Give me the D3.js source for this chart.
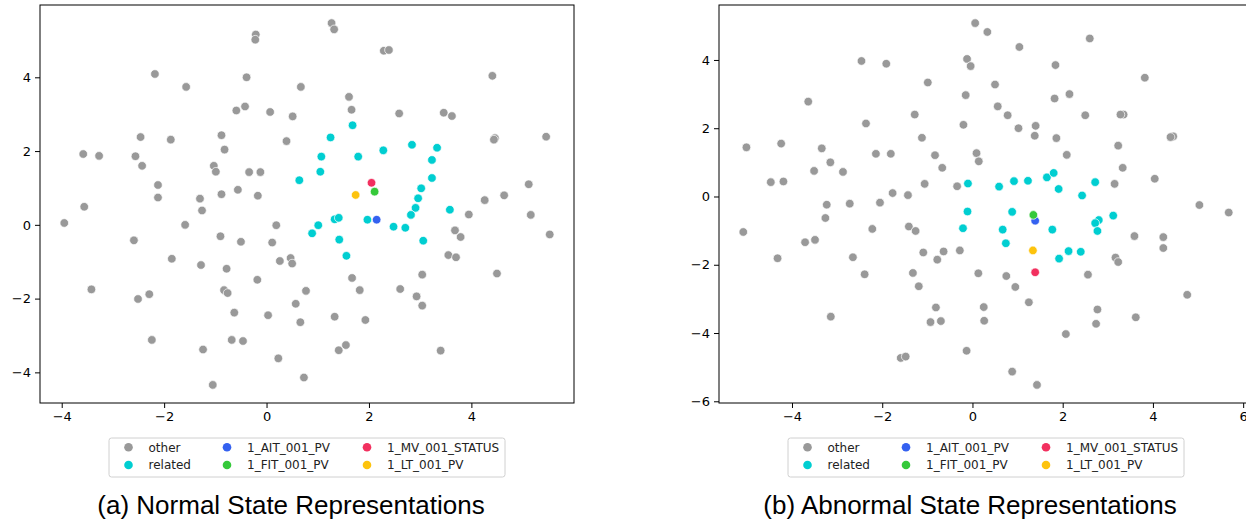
<!DOCTYPE html>
<html>
<head>
<meta charset="utf-8">
<script src="https://cdn.jsdelivr.net/npm/d3@7"></script>
<style>
  body { margin: 0; background: #fff; }
  svg { display: block; }
  .tick text { font-family: "DejaVu Sans", sans-serif; font-size: 13px; fill: #000; }
  .tick line { stroke: #000; }
  .legend text { font-family: "DejaVu Sans", sans-serif; font-size: 12px; fill: #222; }
  .caption { font-family: "Liberation Sans", Arial, sans-serif; font-size: 26px; fill: #000; }
</style>
</head>
<body>
<svg id="chart"></svg>
<script>
// categories / legend
const groups = ['other', 'related'];
const sensors = ['1_AIT_001_PV', '1_FIT_001_PV', '1_MV_001_STATUS', '1_LT_001_PV'];
const captions = ['(a) Normal State Representations', '(b) Abnormal State Representations'];

// tick labels
const xTicksNormal = [-4, -2, 0, 2, 4];
const yTicksNormal = [-4, -2, 0, 2, 4];
const xTicksAbnormal = [-4, -2, 0, 2, 4, 6];
const yTicksAbnormal = [-6, -4, -2, 0, 2, 4];

// (a) normal state
const normalOther = [
  [-0.21, 5.16], [-0.22, 5.02], [-2.18, 4.09], [-0.39, 4.0], [-1.57, 3.74], [0.67, 3.74],
  [-0.42, 3.21], [-0.59, 3.10], [0.07, 3.06], [0.51, 2.94], [-2.46, 2.38], [-1.87, 2.31],
  [-0.88, 2.43], [-0.82, 2.04], [0.39, 2.27], [-3.58, 1.92], [-3.27, 1.87], [-2.56, 1.86],
  [-2.43, 1.60], [-1.03, 1.60], [-0.99, 1.44], [-0.34, 1.43], [-0.12, 1.43], [-2.12, 1.08],
  [-2.12, 0.74], [-1.30, 0.71], [-0.88, 0.83], [-0.56, 0.95], [-0.17, 0.79], [-3.56, 0.49],
  [-1.26, 0.39],
  [-3.95, 0.05], [-1.59, 0.0], [-2.59, -0.42], [-0.90, -0.31], [-0.50, -0.46], [0.19, -0.01],
  [0.11, -0.48], [-1.85, -0.92], [-1.28, -1.09], [-0.78, -1.19], [0.26, -0.98], [0.47, -0.90],
  [0.50, -1.05], [-0.18, -1.49], [-3.42, -1.75], [-2.29, -1.88], [-2.51, -2.01], [-0.83, -1.77],
  [-0.76, -1.85], [0.77, -1.79], [-0.63, -2.38], [0.03, -2.45], [0.57, -2.14], [0.66, -2.64],
  [-2.24, -3.12], [-1.24, -3.38], [-0.68, -3.12], [-0.46, -3.15], [0.23, -3.62], [-1.05, -4.34],
  [0.73, -4.14],
  [1.27, 5.47], [1.32, 5.30], [2.29, 4.72], [2.39, 4.74], [4.41, 4.04], [1.61, 3.47],
  [1.66, 3.12], [2.59, 3.02], [3.46, 3.04], [3.62, 2.95], [4.46, 2.35], [4.44, 2.31],
  [5.46, 2.39], [4.26, 0.67], [4.64, 0.80], [5.12, 1.10],
  [3.95, 0.28], [5.16, 0.27], [5.53, -0.26], [3.68, -0.15], [3.79, -0.33], [3.55, -0.82],
  [3.70, -0.88], [4.50, -1.32], [3.04, -1.35], [2.61, -1.74], [2.93, -1.94], [3.04, -2.19],
  [1.67, -1.44], [1.82, -1.77], [1.33, -2.49], [1.93, -2.58], [1.41, -3.40], [1.55, -3.26],
  [3.40, -3.41]
];
const normalRelated = [
  [0.64, 1.21], [1.68, 2.70], [1.25, 2.37], [2.84, 2.17], [3.33, 2.09], [1.07, 1.85],
  [1.79, 1.85], [2.28, 2.02], [3.23, 1.76], [1.05, 1.44], [3.23, 1.27], [3.02, 0.99],
  [2.96, 0.72], [2.91, 0.46], [3.58, 0.41], [2.82, 0.27], [0.89, -0.23], [1.01, -0.01],
  [1.33, 0.15], [1.41, 0.19], [1.42, -0.40], [1.56, -0.84], [1.97, 0.14], [2.48, -0.05],
  [2.71, -0.08], [3.06, -0.43]
];
const normalSensors = [[2.15, 0.14], [2.11, 0.90], [2.05, 1.14], [1.74, 0.81]];

// (b) abnormal state
const abnormalOther = [
  [0.06, 5.08], [-2.46, 3.97], [-1.91, 3.89], [-0.12, 4.03], [-0.04, 3.82], [-0.99, 3.34],
  [-3.64, 2.78], [-0.15, 2.97], [-1.28, 2.40], [-2.36, 2.14], [-0.20, 2.10], [-1.12, 1.72],
  [-5.01, 1.44], [-4.24, 1.55], [-3.34, 1.41], [-2.14, 1.25], [-1.81, 1.25], [-0.83, 1.21],
  [0.09, 1.27], [0.14, 1.03], [-0.67, 0.84], [-3.15, 1.00], [-3.51, 0.75], [-2.87, 0.72],
  [-4.47, 0.42], [-4.19, 0.44], [-1.06, 0.37], [-0.34, 0.30], [-1.77, 0.10], [-1.43, 0.04],
  [-3.23, -0.24], [-2.72, -0.21], [-2.05, -0.18],
  [-3.26, -0.63], [-5.08, -1.04], [-4.32, -1.81], [-3.71, -1.34], [-3.49, -1.27], [-2.22, -0.95],
  [-2.65, -1.78], [-2.39, -2.28], [-1.41, -0.88], [-1.26, -1.01], [-1.09, -1.64], [-0.78, -1.85],
  [-0.64, -1.61], [-0.28, -1.58], [-1.32, -2.24], [-1.19, -2.63], [-0.81, -3.25], [-0.93, -3.68],
  [-0.70, -3.65], [-3.14, -3.52], [-1.59, -4.73], [-1.48, -4.69], [-0.13, -4.52], [0.13, -2.25],
  [0.33, 4.82], [1.04, 4.38], [2.60, 4.63], [1.84, 3.85], [3.82, 3.48], [0.50, 3.28],
  [1.82, 2.87], [2.15, 3.00], [0.56, 2.64], [0.78, 2.38], [2.50, 2.38], [3.35, 2.40],
  [3.28, 2.40], [1.02, 2.00], [1.40, 2.07], [1.38, 1.78], [1.86, 1.71], [4.45, 1.76],
  [4.39, 1.74], [3.23, 1.49], [2.09, 1.22], [3.33, 0.84], [3.15, 0.37], [4.04, 0.52],
  [5.03, -0.25],
  [5.68, -0.47], [0.75, -2.33], [0.95, -2.65], [1.25, -3.10], [0.25, -3.24], [0.26, -3.64],
  [2.56, -2.29], [3.59, -1.16], [4.23, -1.19], [4.23, -1.51], [3.17, -1.79], [3.23, -1.92],
  [4.76, -2.88], [2.77, -3.31], [2.74, -3.73], [3.62, -3.54], [2.07, -4.03], [0.88, -5.13],
  [1.43, -5.52]
];
const abnormalRelated = [
  [-0.10, 0.38], [-0.11, -0.44], [-0.21, -0.93], [0.59, 0.29], [0.92, 0.45], [1.23, 0.46],
  [1.65, 0.56], [1.80, 0.69], [1.91, 0.22], [2.43, 0.03], [2.72, 0.42], [0.88, -0.45],
  [0.67, -0.97], [0.74, -1.37], [1.77, -0.97], [1.92, -1.82], [2.13, -1.60], [2.40, -1.62],
  [2.80, -0.69], [2.72, -0.78], [2.77, -1.01], [3.12, -0.56]
];
const abnormalSensors = [[1.39, -0.71], [1.35, -0.54], [1.39, -2.22], [1.34, -1.58]];

const groupColor = { other: '#999999', related: '#00ced1' };
const sensorColor = {
  '1_AIT_001_PV': '#3461f0',
  '1_FIT_001_PV': '#35c93a',
  '1_MV_001_STATUS': '#f2305f',
  '1_LT_001_PV': '#fdc30d'
};

const width = 1246;
const height = 529;
const plotW = 534;
const plotH = 398;
const r = 4.3;

const svg = d3.select('#chart')
    .attr('width', width)
    .attr('height', height);

// matplotlib-like 5% margins
const padded = (vals) => {
    const [lo, hi] = d3.extent(vals);
    const m = (hi - lo) * 0.05;
    return [lo - m, hi + m];
};

const panels = [
    { left: 40, top: 5, other: normalOther, related: normalRelated, special: normalSensors,
      xTicks: xTicksNormal, yTicks: yTicksNormal, caption: captions[0], capX: 291 },
    { left: 719, top: 5, other: abnormalOther, related: abnormalRelated, special: abnormalSensors,
      xTicks: xTicksAbnormal, yTicks: yTicksAbnormal, caption: captions[1], capX: 970 }
];

panels.forEach(p => {
    const all = p.other.concat(p.related, p.special);
    const x = d3.scaleLinear().domain(padded(all.map(d => d[0]))).range([0, plotW]);
    const y = d3.scaleLinear().domain(padded(all.map(d => d[1]))).range([plotH, 0]);

    const g = svg.append('g').attr('transform', `translate(${p.left},${p.top})`);

    g.append('g')
        .attr('transform', `translate(0,${plotH})`)
        .call(d3.axisBottom(x).tickValues(p.xTicks).tickSize(5).tickPadding(4).tickSizeOuter(0))
        .call(a => a.select('.domain').remove());
    g.append('g')
        .call(d3.axisLeft(y).tickValues(p.yTicks).tickSize(5).tickPadding(4).tickSizeOuter(0))
        .call(a => a.select('.domain').remove());

    const dot = (sel, data, color) => sel.selectAll(null)
        .data(data)
        .join('circle')
        .attr('cx', d => x(d[0]))
        .attr('cy', d => y(d[1]))
        .attr('r', r)
        .attr('fill', color)
        .attr('stroke', '#fff')
        .attr('stroke-width', 0.7);

    dot(g.append('g'), p.other, groupColor.other);
    dot(g.append('g'), p.related, groupColor.related);
    p.special.forEach((d, i) => dot(g.append('g'), [d], sensorColor[sensors[i]]));

    g.append('rect')
        .attr('width', plotW)
        .attr('height', plotH)
        .attr('fill', 'none')
        .attr('stroke', '#000')
        .attr('stroke-width', 1);

    // legend
    const lx = p.left + plotW / 2 - 198;
    const leg = svg.append('g').attr('class', 'legend').attr('transform', `translate(${lx},438)`);
    leg.append('rect')
        .attr('width', 396).attr('height', 39)
        .attr('rx', 2.5)
        .attr('fill', '#fff')
        .attr('stroke', '#d0d0d0');

    const items = [
        { label: groups[0], color: groupColor.other },
        { label: groups[1], color: groupColor.related },
        { label: sensors[0], color: sensorColor[sensors[0]] },
        { label: sensors[1], color: sensorColor[sensors[1]] },
        { label: sensors[2], color: sensorColor[sensors[2]] },
        { label: sensors[3], color: sensorColor[sensors[3]] }
    ];
    const colX = [19.5, 118, 258];
    const rowY = [9.3, 27];
    items.forEach((it, i) => {
        const cx = colX[Math.floor(i / 2)];
        const cy = rowY[i % 2];
        leg.append('circle').attr('cx', cx).attr('cy', cy).attr('r', r).attr('fill', it.color);
        leg.append('text').attr('x', cx + 20).attr('y', cy).attr('dy', '0.35em').text(it.label);
    });

    svg.append('text')
        .attr('class', 'caption')
        .attr('x', p.capX)
        .attr('y', 514)
        .attr('text-anchor', 'middle')
        .text(p.caption);
});
</script>
</body>
</html>
